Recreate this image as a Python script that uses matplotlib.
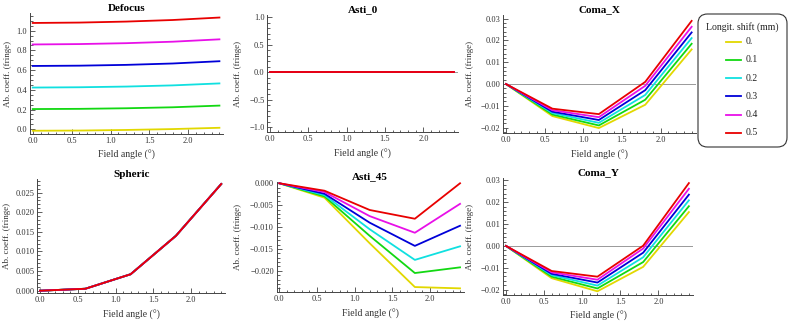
import numpy as np
import matplotlib
matplotlib.use("Agg")
from matplotlib import pyplot as plt
from matplotlib.ticker import MultipleLocator
from matplotlib.patches import FancyBboxPatch
from matplotlib.lines import Line2D

plt.rcParams["font.family"] = ["Liberation Serif", "DejaVu Serif"]

angle = [0.0, 0.6, 1.2, 1.8, 2.4]
shifts = ["0.", "0.1", "0.2", "0.3", "0.4", "0.5"]
colors = ["#e2d800", "#12d812", "#10e0e0", "#0000d8", "#e810e8", "#e80000"]

defocus = [
    [-0.015, -0.013, -0.007, 0.002, 0.015],
    [0.205, 0.207, 0.213, 0.223, 0.240],
    [0.423, 0.426, 0.433, 0.445, 0.465],
    [0.642, 0.645, 0.653, 0.667, 0.690],
    [0.860, 0.864, 0.873, 0.888, 0.912],
    [1.078, 1.082, 1.092, 1.108, 1.133],
]
asti_0 = [[0.0] * 5 for _ in shifts]
coma_x = [
    [0.0, -0.0147, -0.0202, -0.0095, 0.0159],
    [0.0, -0.0140, -0.0190, -0.0072, 0.0185],
    [0.0, -0.0133, -0.0178, -0.0050, 0.0211],
    [0.0, -0.0127, -0.0165, -0.0028, 0.0237],
    [0.0, -0.0120, -0.0152, -0.0008, 0.0263],
    [0.0, -0.0113, -0.0138, 0.0010, 0.0290],
]
spheric = [[0.0, 0.0005, 0.0042, 0.0140, 0.0272] for _ in shifts]
asti_45 = [
    [0.0, -0.0033, -0.0137, -0.0237, -0.0240],
    [0.0, -0.0030, -0.0120, -0.0205, -0.0192],
    [0.0, -0.0027, -0.0105, -0.0175, -0.0144],
    [0.0, -0.0024, -0.0090, -0.0143, -0.0097],
    [0.0, -0.0020, -0.0075, -0.0113, -0.0047],
    [0.0, -0.0017, -0.0061, -0.0081, 0.0000],
]
coma_y = [
    [0.0, -0.0148, -0.0208, -0.0096, 0.0155],
    [0.0, -0.0141, -0.0195, -0.0074, 0.0182],
    [0.0, -0.0134, -0.0182, -0.0052, 0.0209],
    [0.0, -0.0128, -0.0168, -0.0031, 0.0235],
    [0.0, -0.0121, -0.0155, -0.0012, 0.0262],
    [0.0, -0.0115, -0.0141, 0.0001, 0.0288],
]

W, H = 789, 323
fig = plt.figure(figsize=(W / 100, H / 100), dpi=100)

# name, data, box in pixels (left, top, right, bottom), ylim, y major, y minor, fmt, zero line, ylabel x
panels = [
    ("Defocus", defocus, (30.0, 13.3, 223.3, 134.0), (-0.048, 1.176), 0.2, 0.05, "{x:.1f}", False, 12),
    ("Asti_0", asti_0, (267.3, 15.0, 457.9, 132.3), (-1.09, 1.04), 0.5, 0.1, "{x:.1f}", True, 242),
    ("Coma_X", coma_x, (503.3, 15.0, 695.5, 133.3), (-0.0226, 0.0317), 0.01, 0.002, "{x:.2f}", True, 474),
    ("Spheric", spheric, (37.4, 179.3, 225.0, 293.3), (-0.00066, 0.0284), 0.005, 0.001, "{x:.3f}", False, 11),
    ("Asti_45", asti_45, (276.7, 181.7, 463.8, 292.3), (-0.0249, 0.00036), 0.005, 0.001, "{x:.3f}", False, 242),
    ("Coma_Y", coma_y, (503.3, 178.3, 692.7, 295.0), (-0.0225, 0.031), 0.01, 0.002, "{x:.2f}", True, 474),
]

for name, data, (l, t, r, b), ylim, ymaj, ymin_, fmt, zero, ylx in panels:
    ax = fig.add_axes([l / W, 1 - b / H, (r - l) / W, (b - t) / H])
    if zero:
        ax.axhline(0, color="#999999", lw=0.7, zorder=1)
    for vals, c, lab in zip(data, colors, shifts):
        ax.plot(angle, vals, color=c, lw=1.3, label=lab, zorder=2)
    ax.set_xlim(-0.035, 2.45)
    ax.set_ylim(*ylim)
    ax.xaxis.set_major_locator(MultipleLocator(0.5))
    ax.xaxis.set_minor_locator(MultipleLocator(0.1))
    ax.yaxis.set_major_locator(MultipleLocator(ymaj))
    ax.yaxis.set_minor_locator(MultipleLocator(ymin_))
    ax.xaxis.set_major_formatter("{x:.1f}")
    ax.yaxis.set_major_formatter(fmt)
    for s in ("top", "right"):
        ax.spines[s].set_visible(False)
    for s in ("left", "bottom"):
        ax.spines[s].set_color("#444444")
        ax.spines[s].set_linewidth(0.7)
    ax.tick_params(which="both", direction="in", labelsize=6, color="#444444",
                   labelcolor="#333333", width=0.6, pad=2)
    ax.tick_params(which="major", length=3.5)
    ax.tick_params(which="minor", length=1.8)
    ax.set_title(name, fontsize=8, fontweight="bold", pad=2)
    ax.set_xlabel("Field angle (°)", fontsize=7, labelpad=4, color="#333333")
    ax.set_ylabel("Ab. coeff. (fringe)", fontsize=6.5, color="#333333")
    ax.yaxis.set_label_coords((ylx - l) / (r - l), 0.5)

# legend box drawn in figure pixels
box = FancyBboxPatch((698 / W, 1 - 147 / H), 89 / W, 133 / H,
                     boxstyle="round,pad=0,rounding_size=0.012",
                     transform=fig.transFigure, facecolor="white",
                     edgecolor="#333333", lw=0.8, mutation_aspect=W / H)
fig.add_artist(box)
fig.text(742.5 / W, 1 - 27 / H, "Longit. shift (mm)", fontsize=7,
         ha="center", va="center", color="#222222")
for i, (c, lab) in enumerate(zip(colors, shifts)):
    y = 1 - (41.7 + i * 18.2) / H
    fig.add_artist(Line2D([726 / W, 741 / W], [y, y], color=c, lw=1.3,
                          transform=fig.transFigure))
    fig.text(746 / W, y, lab, fontsize=7, ha="left", va="center", color="#222222")

fig.savefig("out.png", dpi=100)
